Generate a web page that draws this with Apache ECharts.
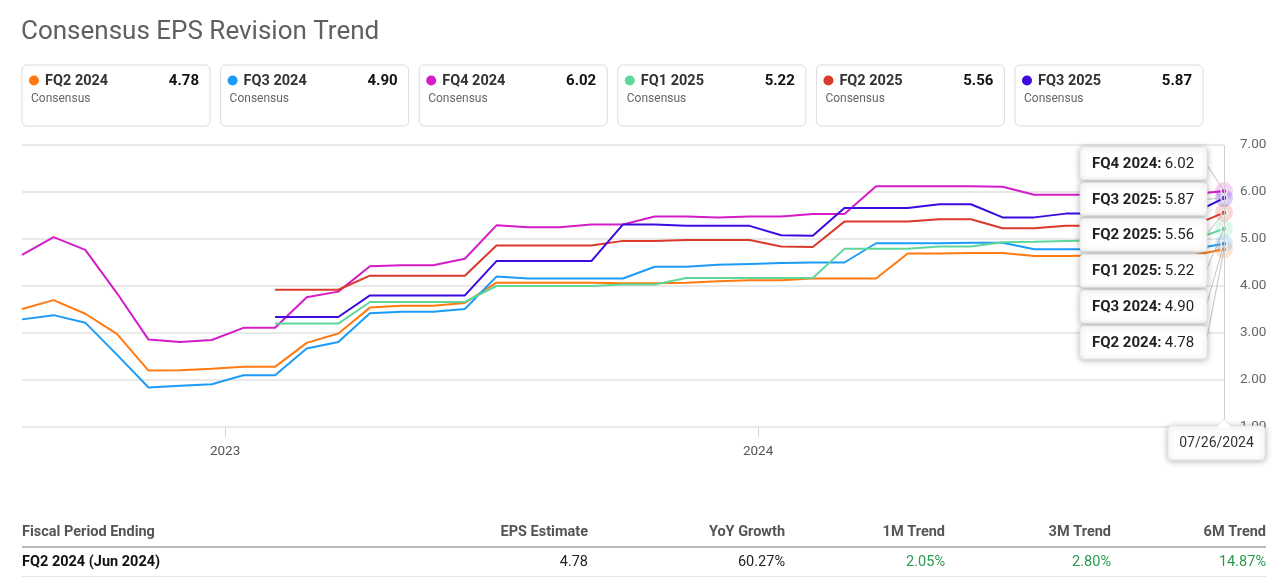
<!DOCTYPE html>
<html>
<head>
<meta charset="utf-8">
<script src="https://cdn.jsdelivr.net/npm/echarts@6/dist/echarts.min.js"></script>
<style>
html,body{margin:0;padding:0;background:#fff;}
#chart{width:1280px;height:577px;}
</style>
</head>
<body>
<div id="chart"></div>
<script>
// ---------------- DATA ----------------
const chartTitle = 'Consensus EPS Revision Trend';
const seriesNames = ['FQ2 2024', 'FQ3 2024', 'FQ4 2024', 'FQ1 2025', 'FQ2 2025', 'FQ3 2025'];
const seriesColors = ['#FF7A12', '#1C9BF7', '#D41CC8', '#5FD79A', '#D93A2B', '#3B0BE0'];
const cardSubtitle = 'Consensus';

// evenly spaced observation index (0 .. 38); null = not yet estimated
const fq2_2024 = [3.51,3.70,3.41,2.98,2.20,2.21,2.24,2.28,2.28,2.79,2.99,3.54,3.58,3.58,3.64,4.07,4.07,4.07,4.07,4.06,4.06,4.07,4.10,4.12,4.12,4.16,4.16,4.16,4.69,4.69,4.70,4.70,4.64,4.64,4.65,4.65,4.65,4.65,4.78];
const fq3_2024 = [3.29,3.38,3.22,2.54,1.84,1.88,1.91,2.10,2.10,2.67,2.81,3.42,3.45,3.45,3.51,4.20,4.16,4.16,4.16,4.16,4.41,4.41,4.45,4.47,4.49,4.50,4.50,4.91,4.91,4.91,4.92,4.92,4.78,4.78,4.78,4.78,4.78,4.78,4.90];
const fq4_2024 = [4.66,5.04,4.77,3.85,2.86,2.81,2.85,3.11,3.11,3.76,3.88,4.42,4.44,4.44,4.58,5.29,5.25,5.25,5.31,5.31,5.48,5.48,5.46,5.48,5.48,5.53,5.53,6.12,6.12,6.12,6.12,6.11,5.94,5.94,5.94,5.95,5.95,5.95,6.02];
const fq1_2025 = [null,null,null,null,null,null,null,null,3.20,3.20,3.20,3.66,3.66,3.66,3.66,4.00,4.00,4.00,4.00,4.03,4.03,4.17,4.17,4.17,4.17,4.17,4.79,4.79,4.79,4.84,4.84,4.93,4.94,4.96,4.97,4.97,4.97,4.97,5.22];
const fq2_2025 = [null,null,null,null,null,null,null,null,3.92,3.92,3.92,4.22,4.22,4.22,4.22,4.86,4.86,4.86,4.86,4.96,4.96,4.98,4.98,4.98,4.84,4.83,5.37,5.37,5.37,5.42,5.42,5.23,5.23,5.28,5.28,5.28,5.28,5.28,5.56];
const fq3_2025 = [null,null,null,null,null,null,null,null,3.34,3.34,3.34,3.80,3.80,3.80,3.80,4.53,4.53,4.53,4.53,5.31,5.31,5.28,5.28,5.28,5.08,5.07,5.66,5.66,5.66,5.74,5.74,5.46,5.46,5.54,5.54,5.54,5.54,5.54,5.87];
const seriesValues = [fq2_2024, fq3_2024, fq4_2024, fq1_2025, fq2_2025, fq3_2025];

const xTickIndex = [6.42, 23.27];
const xTickLabels = ['2023', '2024'];
const yMin = 1, yMax = 7, yStep = 1;
const lastDate = '07/26/2024';

const tableHeaders = ['Fiscal Period Ending', 'EPS Estimate', 'YoY Growth', '1M Trend', '3M Trend', '6M Trend'];
const tableRow = ['FQ2 2024 (Jun 2024)', '4.78', '60.27%', '2.05%', '2.80%', '14.87%'];

// ---------------- CHART ----------------
const FONT = 'Roboto, "Helvetica Neue", Arial, sans-serif';
const chart = echarts.init(document.getElementById('chart'), null, {renderer: 'canvas'});
const lastIdx = fq2_2024.length - 1;
const lastVals = seriesValues.map(a => a[a.length - 1]);

function hexA(hex, a) {
  const n = parseInt(hex.slice(1), 16);
  return 'rgba(' + (n >> 16 & 255) + ',' + (n >> 8 & 255) + ',' + (n & 255) + ',' + a + ')';
}

const series = [];
seriesNames.forEach((name, i) => {
  const s = {
    name: name, type: 'line',
    data: seriesValues[i].map((v, k) => v == null ? null : [k, v]).filter(d => d),
    showSymbol: false, symbol: 'none',
    lineStyle: {color: seriesColors[i], width: 2},
    itemStyle: {color: seriesColors[i]},
    z: 2, silent: true
  };
  if (i === 0) {
    s.markLine = {
      silent: true, symbol: ['none', 'none'], label: {show: false},
      lineStyle: {color: '#cfcfcf', width: 1, type: 'solid'},
      data: [{xAxis: lastIdx}], animation: false
    };
  }
  series.push(s);
});
// halos and end dots
seriesNames.forEach((name, i) => {
  series.push({
    type: 'scatter', silent: true, z: 3,
    data: [[lastIdx, lastVals[i]]], symbolSize: 18,
    itemStyle: {color: hexA(seriesColors[i], 0.25)}
  });
});
seriesNames.forEach((name, i) => {
  series.push({
    type: 'scatter', silent: true, z: 4,
    data: [[lastIdx, lastVals[i]]], symbolSize: 6,
    itemStyle: {color: seriesColors[i], borderColor: '#fff', borderWidth: 1.5}
  });
});

const option = {
  animation: false,
  backgroundColor: '#fff',
  grid: {left: 22, right: 56, top: 145, bottom: 150},
  xAxis: {
    type: 'value', min: 0, max: lastIdx,
    axisLine: {show: false},
    splitLine: {show: false},
    axisTick: {show: true, customValues: xTickIndex, length: 10, lineStyle: {color: '#d6d6d6'}},
    axisLabel: {
      customValues: xTickIndex,
      formatter: v => { const k = xTickIndex.indexOf(v); return k >= 0 ? xTickLabels[k] : ''; },
      color: '#555', fontSize: 13.5, fontFamily: FONT, margin: 18
    }
  },
  yAxis: {
    type: 'value', position: 'right', min: yMin, max: yMax, interval: yStep,
    axisLine: {show: false}, axisTick: {show: false},
    splitLine: {lineStyle: {color: '#e2e2e2', width: 1.5}},
    axisLabel: {formatter: v => v.toFixed(2), color: '#666', fontSize: 13.5, fontFamily: FONT, margin: 16}
  },
  series: series
};
chart.setOption(option);

// ---------------- GRAPHICS (title, cards, tooltips, table) ----------------
const g = [];
g.push({type: 'text', z: 100, style: {x: 21, y: 32, text: chartTitle, fill: '#606060', font: '400 26px ' + FONT, textVerticalAlign: 'middle'}});

seriesNames.forEach((name, i) => {
  const x = 22 + i * 198.6;
  g.push({type: 'rect', z: 100, shape: {x: x, y: 65, width: 188, height: 61, r: 5}, style: {fill: '#fff', stroke: '#dcdcdc', lineWidth: 1}});
  g.push({type: 'circle', z: 101, shape: {cx: x + 12, cy: 80.5, r: 5}, style: {fill: seriesColors[i]}});
  g.push({type: 'text', z: 101, style: {x: x + 23, y: 81, text: name, fill: '#333', font: '700 14.5px ' + FONT, textVerticalAlign: 'middle'}});
  g.push({type: 'text', z: 101, style: {x: x + 177, y: 81, text: lastVals[i].toFixed(2), fill: '#111', font: '700 15px ' + FONT, textAlign: 'right', textVerticalAlign: 'middle'}});
  g.push({type: 'text', z: 101, style: {x: x + 9, y: 99, text: cardSubtitle, fill: '#666', font: '400 12px ' + FONT, textVerticalAlign: 'middle'}});
});

// stacked tooltip boxes at last date
const order = lastVals.map((v, i) => i).sort((a, b) => lastVals[b] - lastVals[a]);
order.forEach((si, k) => {
  const top = 147 + k * 35.8;
  const p = chart.convertToPixel({gridIndex: 0}, [lastIdx, lastVals[si]]);
  g.push({type: 'line', z: 104, shape: {x1: 1206, y1: top + 16.5, x2: p[0], y2: p[1]}, style: {stroke: 'rgba(170,170,170,0.7)', lineWidth: 1}});
  g.push({type: 'rect', z: 105, shape: {x: 1080, y: top, width: 127, height: 33, r: 4},
    style: {fill: '#fff', stroke: '#e6e6e6', lineWidth: 1, shadowBlur: 6, shadowColor: 'rgba(0,0,0,0.28)', shadowOffsetY: 1}});
  g.push({type: 'text', z: 106, style: {
    x: 1143, y: top + 17, text: '{b|' + seriesNames[si] + ':} {v|' + lastVals[si].toFixed(2) + '}',
    textAlign: 'center', textVerticalAlign: 'middle',
    rich: {b: {font: '700 15px ' + FONT, fill: '#222'}, v: {font: '400 15px ' + FONT, fill: '#222'}}
  }});
});

// date tooltip
const px = chart.convertToPixel({gridIndex: 0}, [lastIdx, yMin]);
g.push({type: 'rect', z: 105, shape: {x: 1168, y: 426, width: 97, height: 34, r: 4},
  style: {fill: '#fff', stroke: '#e6e6e6', lineWidth: 1, shadowBlur: 6, shadowColor: 'rgba(0,0,0,0.28)', shadowOffsetY: 1}});
g.push({type: 'polygon', z: 106, shape: {points: [[px[0] - 7, 426.5], [px[0], 419], [px[0] + 7, 426.5]]}, style: {fill: '#fff', stroke: '#e6e6e6', lineWidth: 1}});
g.push({type: 'rect', z: 107, shape: {x: px[0] - 6, y: 426, width: 12, height: 2}, style: {fill: '#fff'}});
g.push({type: 'text', z: 107, style: {x: 1216.5, y: 443.5, text: lastDate, fill: '#333', font: '400 14px ' + FONT, textAlign: 'center', textVerticalAlign: 'middle'}});

// table
const colRight = [null, 588, 785, 945, 1111, 1266];
tableHeaders.forEach((h, i) => {
  g.push({type: 'text', z: 100, style: {x: i === 0 ? 22 : colRight[i], y: 532, text: h, fill: '#555', font: '700 14.5px ' + FONT, textAlign: i === 0 ? 'left' : 'right', textVerticalAlign: 'middle'}});
});
g.push({type: 'rect', z: 100, shape: {x: 22, y: 546, width: 1244, height: 2}, style: {fill: '#b8b8b8'}});
tableRow.forEach((t, i) => {
  const fill = i === 0 ? '#111' : (i >= 3 ? '#2a9a4f' : '#222');
  g.push({type: 'text', z: 100, style: {x: i === 0 ? 22 : colRight[i], y: 562, text: t, fill: fill, font: (i === 0 ? '700 ' : '400 ') + '14.5px ' + FONT, textAlign: i === 0 ? 'left' : 'right', textVerticalAlign: 'middle'}});
});
g.push({type: 'rect', z: 100, shape: {x: 22, y: 576, width: 1244, height: 1}, style: {fill: '#e6e6e6'}});

chart.setOption({graphic: {elements: g}});
</script>
</body>
</html>
